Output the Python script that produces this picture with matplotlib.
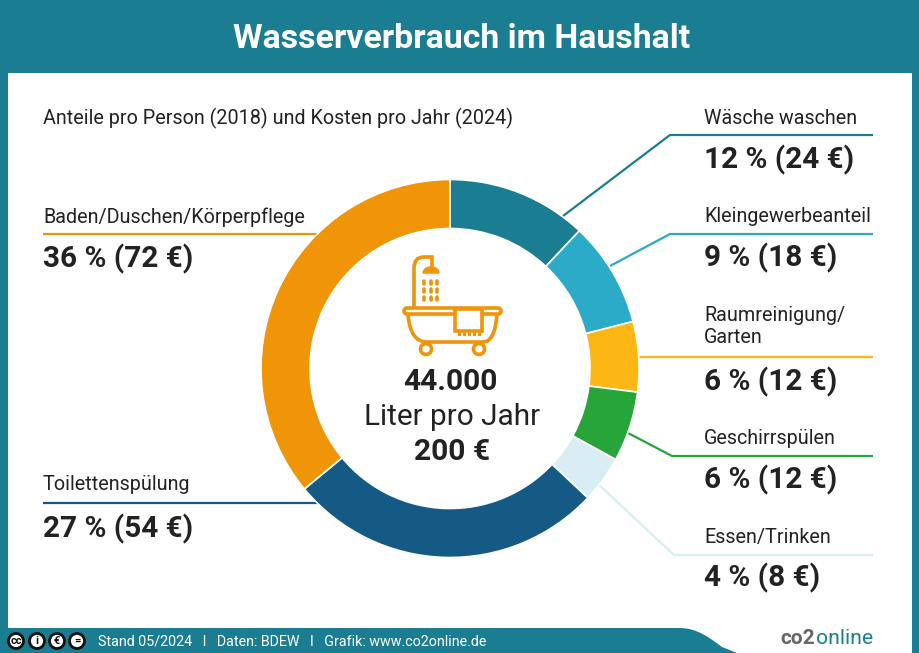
import matplotlib
matplotlib.use("Agg")
import matplotlib.pyplot as plt
from matplotlib.patches import Circle, Rectangle, PathPatch, FancyBboxPatch
from matplotlib.path import Path

W, H = 920, 653

TEAL = "#1a7d92"
ORANGE = "#f09408"
INK = "#222222"

categories = ["Wäsche waschen", "Kleingewerbeanteil", "Raumreinigung/\nGarten", "Geschirrspülen",
              "Essen/Trinken", "Toilettenspülung", "Baden/Duschen/Körperpflege"]
shares = [12, 9, 6, 6, 4, 27, 36]
costs = [24, 18, 12, 12, 8, 54, 72]
colors = ["#1a7d92", "#2cabc9", "#fdb714", "#27a539", "#d8edf4", "#145a85", ORANGE]

# leader lines in picture pixels, same order as categories
leaders = [
    [(563, 216), (670, 135), (873, 135)],
    [(610, 266), (670, 234), (873, 234)],
    [(639, 357), (873, 357)],
    [(628, 433), (672, 456), (873, 456)],
    [(598, 484), (674, 555), (873, 555)],
    [(320, 503), (43, 503)],
    [(320, 234), (43, 234)],
]
label_y = [118, 216, 326.5, 439, 538, 485, 217]
value_y = [159.5, 257.5, 381.5, 479.5, 577.5, 528.5, 258.5]

plt.rcParams["font.family"] = ["Roboto", "DejaVu Sans"]

fig = plt.figure(figsize=(W / 100, H / 100), dpi=100, facecolor=TEAL)
ax = fig.add_axes([0, 0, 1, 1])
ax.set_xlim(0, W)
ax.set_ylim(H, 0)
ax.axis("off")

# panel + footer
ax.add_patch(Rectangle((8, 73), 904, 580, fc="white", ec="none", zorder=1))
foot = Path([(0, 628), (680, 628), (697, 628), (710, 638), (722, 647), (737, 653), (0, 653), (0, 628)],
            [Path.MOVETO, Path.LINETO, Path.CURVE4, Path.CURVE4, Path.CURVE4, Path.LINETO, Path.LINETO,
             Path.CLOSEPOLY])
ax.add_patch(PathPatch(foot, fc=TEAL, ec="none", zorder=2))

ax.text(461.5, 39, "Wasserverbrauch im Haushalt", color="white", fontsize=24.4, weight="bold",
        ha="center", va="center", zorder=5)
ax.text(43, 118, "Anteile pro Person (2018) und Kosten pro Jahr (2024)", color=INK, fontsize=14.25,
        ha="left", va="center", zorder=5)

# leaders go under the donut
for i in range(len(categories)):
    xs, ys = zip(*leaders[i])
    ax.plot(xs, ys, color=colors[i], lw=1.6, zorder=3, solid_capstyle="butt")

# donut
cx, cy, r = 450, 368.5, 189
pie_ax = fig.add_axes([(cx - r) / W, 1 - (cy + r) / H, 2 * r / W, 2 * r / H])
pie_ax.pie(shares, colors=colors, startangle=90, counterclock=False, radius=1,
           wedgeprops=dict(width=49 / r, edgecolor="white", linewidth=1.2))
pie_ax.set_xlim(-1, 1)
pie_ax.set_ylim(-1, 1)

# labels
for i, name in enumerate(categories):
    x_text = 704 if i < 5 else 43
    ax.text(x_text, label_y[i], name, color=INK, fontsize=14.25, ha="left", va="center",
            linespacing=1.25, zorder=5)
    ax.text(x_text, value_y[i], f"{shares[i]} % ({costs[i]} €)", color=INK, fontsize=21.4,
            weight="bold", ha="left", va="center", zorder=5)

# icon and centre text sit on a layer above the donut axes
top = fig.add_axes([0, 0, 1, 1], facecolor="none")
top.set_xlim(0, W)
top.set_ylim(H, 0)
top.axis("off")

top.text(450, 381.5, "44.000", color=INK, fontsize=21.6, weight="bold", ha="center", va="center")
top.text(452.5, 417, "Liter pro Jahr", color=INK, fontsize=21.4, ha="center", va="center")
top.text(452.5, 452, "200 €", color=INK, fontsize=21.6, weight="bold", ha="center", va="center")

# bathtub icon
lw_i = 2.6
pipe = Path([(414, 307), (414, 268), (414, 257), (424, 257), (432, 257), (432, 267)],
            [Path.MOVETO, Path.LINETO, Path.CURVE3, Path.CURVE3, Path.LINETO, Path.LINETO])
top.add_patch(PathPatch(pipe, fc="none", ec=ORANGE, lw=lw_i, capstyle="round"))
head = Path([(423, 273), (424, 267), (431, 267), (438, 267), (439, 273), (423, 273)],
            [Path.MOVETO, Path.CURVE3, Path.CURVE3, Path.CURVE3, Path.CURVE3, Path.CLOSEPOLY])
top.add_patch(PathPatch(head, fc=ORANGE, ec=ORANGE, lw=1))
for dx in (424, 431, 437):
    for dy in (282, 290, 298):
        top.plot([dx, dx], [dy - 1.5, dy + 1.5], color=ORANGE, lw=2.6, solid_capstyle="round")
tub = Path([(408, 314), (410, 342), (427, 342), (483, 342), (495, 342), (497, 314)],
           [Path.MOVETO, Path.CURVE3, Path.CURVE3, Path.LINETO, Path.CURVE3, Path.CURVE3])
top.add_patch(PathPatch(tub, fc="none", ec=ORANGE, lw=lw_i))
top.add_patch(FancyBboxPatch((404, 308), 97, 6, boxstyle="round,pad=0,rounding_size=3",
                             fc="white", ec=ORANGE, lw=lw_i))
top.add_patch(Rectangle((455, 309), 27, 22, fc="white", ec=ORANGE, lw=lw_i))
for dx in (459, 464, 469, 474, 479):
    top.plot([dx, dx], [331, 334], color=ORANGE, lw=2.2)
top.add_patch(Circle((426, 349), 5.5, fc="white", ec=ORANGE, lw=lw_i))
top.add_patch(Circle((479, 349), 5.5, fc="white", ec=ORANGE, lw=lw_i))

# footer
for x_c, s in zip((16, 37, 57, 77), ("cc", "i", "€", "=")):
    ax.add_patch(Circle((x_c, 641), 7.5, fc="white", ec="#111111", lw=2, zorder=5))
    ax.text(x_c, 641, s, fontsize=8, weight="bold", color="#111111", ha="center", va="center", zorder=6)
ax.text(98, 641.5, "Stand 05/2024   I   Daten: BDEW   I   Grafik: www.co2online.de", color="white",
        fontsize=10.3, ha="left", va="center", zorder=5)
ax.text(780, 639, "co2", color="#666666", fontsize=15, weight="bold", ha="left", va="center", zorder=5)
ax.text(873.5, 639, "online", color=TEAL, fontsize=15.2, ha="right", va="center", zorder=5)

fig.savefig("out.png", dpi=100, facecolor=fig.get_facecolor())
